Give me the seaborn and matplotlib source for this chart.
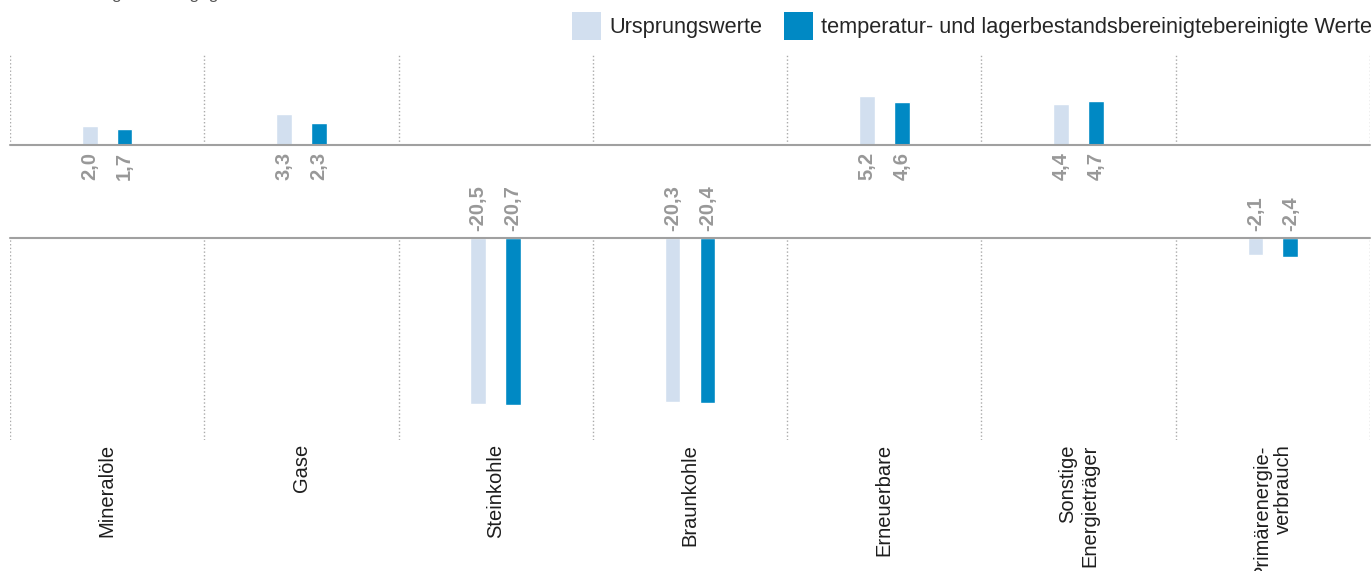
import numpy as np
import pandas as pd
import matplotlib
matplotlib.use('Agg')
import matplotlib.pyplot as plt
from matplotlib.patches import Patch
import seaborn as sns

''' DATA '''
categories = ['Mineralöle', 'Gase', 'Steinkohle', 'Braunkohle', 'Erneuerbare',
              'Sonstige\nEnergieträger', 'Primärenergie-\nverbrauch']
ursprung = [2.0, 3.3, -20.5, -20.3, 5.2, 4.4, -2.1]
bereinigt = [1.7, 2.3, -20.7, -20.4, 4.6, 4.7, -2.4]
series = ['Ursprungswerte',
          'temperatur- und lagerbestandsbereinigtebereinigte Werte']
title = 'Veränderungen 2019 gegenüber 2018 in %'

colors = ['#d2dfef', '#0089c4']
label_grey = '#989898'
line_grey = '#a0a0a0'

df = pd.DataFrame({'Kategorie': categories * 2,
                   'Reihe': [series[0]] * len(categories) + [series[1]] * len(categories),
                   'Wert': ursprung + bereinigt})

''' STYLE '''
sns.set_style('white')
plt.rcParams['font.family'] = ['Liberation Sans', 'DejaVu Sans']

W, H = 1372, 571
fig = plt.figure(figsize=(W / 100, H / 100), dpi=100)
# broken axis: positive part on top, negative part below
ax_top = fig.add_axes([10 / W, (H - 145) / H, 1360 / W, 92 / H])
ax_bot = fig.add_axes([10 / W, (H - 440) / H, 1360 / W, 202 / H])

for ax in (ax_top, ax_bot):
    sns.barplot(data=df, x='Kategorie', y='Wert', hue='Reihe',
                hue_order=series, order=categories, palette=colors,
                saturation=1, errorbar=None, width=0.36, gap=0.55,
                legend=False, ax=ax)
    ax.set_xlim(-0.5, len(categories) - 0.5)
    ax.set_xlabel('')
    ax.set_ylabel('')
    ax.set_yticks([])
    ax.set_xticks(np.arange(-0.5, len(categories), 1), minor=True)
    ax.grid(which='minor', axis='x', linestyle=':', color='#aaaaaa', linewidth=1)
    ax.grid(which='major', visible=False)
    ax.tick_params(which='both', length=0)
    ax.axhline(0, color=line_grey, linewidth=1.5, clip_on=False, zorder=3)
    sns.despine(ax=ax, left=True, bottom=True)

ax_top.set_ylim(0, 9.8)
ax_bot.set_ylim(-25, 0)
ax_top.set_xticklabels([])
ax_bot.set_xticks(range(len(categories)))
ax_bot.set_xticklabels(categories, rotation=90, fontsize=14.5,
                       color='#1e1e1e', multialignment='right')
ax_bot.tick_params(axis='x', pad=3)

# value labels at the baseline of each bar
for cont in ax_top.containers:
    for bar, v in zip(cont.patches, cont.datavalues):
        xc = bar.get_x() + bar.get_width() / 2
        txt = f'{v:.1f}'.replace('.', ',')
        if v >= 0:
            ax_top.annotate(txt, (xc, 0), xytext=(0, -5), textcoords='offset points',
                            rotation=90, ha='center', va='top', fontsize=14.5,
                            fontweight='bold', color=label_grey, annotation_clip=False)
        else:
            ax_bot.annotate(txt, (xc, 0), xytext=(0, 5), textcoords='offset points',
                            rotation=90, ha='center', va='bottom', fontsize=14.5,
                            fontweight='bold', color=label_grey, annotation_clip=False)

handles = [Patch(facecolor=c, edgecolor='none') for c in colors]
fig.legend(handles, series, loc='upper right', bbox_to_anchor=(1.0, 1 - 12 / H),
           ncol=2, frameon=False, fontsize=15.7, handlelength=1.35,
           handleheight=1.6, handletextpad=0.35, columnspacing=1.0,
           borderpad=0, borderaxespad=0)

# title line, cut off at the top edge as in the source
fig.text(22 / W, 1 + 0.5 / H, title, fontsize=12.5, color='#555555', va='baseline')

plt.savefig('out.png', dpi=100)
